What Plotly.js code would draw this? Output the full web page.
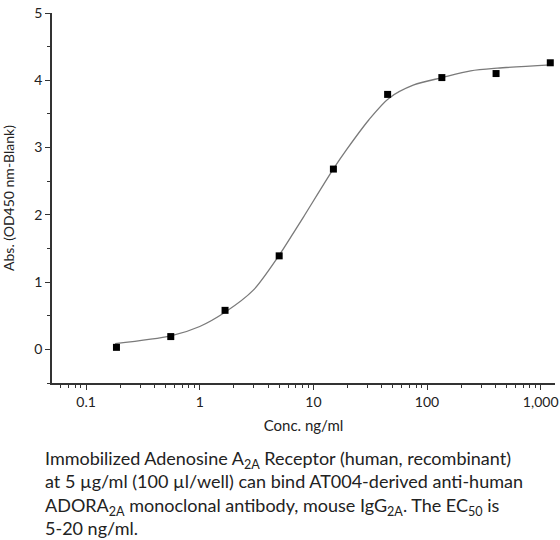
<!DOCTYPE html>
<html>
<head>
<meta charset="utf-8">
<script src="https://cdn.plot.ly/plotly-3.0.1.min.js"></script>
<style>
  body { margin: 0; background: #fff; }
  #chart { width: 560px; height: 540px; }
</style>
</head>
<body>
<div id="chart"></div>
<script>
// measured points (conc. ng/ml vs absorbance)
const conc = [0.185, 0.556, 1.67, 5, 15, 45, 135, 405, 1215];
const absorb = [0.03, 0.19, 0.58, 1.39, 2.68, 3.79, 4.04, 4.10, 4.26];

// fitted curve
const fitConc = [0.18, 0.556, 1, 1.68, 2.96, 5, 6.9, 8.2, 15.1, 19.8, 30.7, 46, 76.5, 136, 242, 416, 1225];
const fitAbs = [0.085, 0.20, 0.34, 0.555, 0.88, 1.40, 1.77, 1.97, 2.69, 2.98, 3.41, 3.73, 3.93, 4.04, 4.14, 4.18, 4.23];

const xTickVals = [0.1, 1, 10, 100, 1000];
const xTickText = ["0.1", "1", "10", "100", "1,000"];
const yTickVals = [0, 1, 2, 3, 4, 5];

const caption = "Immobilized Adenosine A<sub>2A</sub> Receptor (human, recombinant)<br>" +
                "at 5 µg/ml (100 µl/well) can bind AT004-derived anti-human<br>" +
                "ADORA<sub>2A</sub> monoclonal antibody, mouse IgG<sub>2A</sub>. The EC<sub>50</sub> is<br>" +
                "5-20 ng/ml.";

const traceFit = {
    x: fitConc,
    y: fitAbs,
    mode: "lines",
    type: "scatter",
    line: { color: "#7a7a7a", width: 1.3, shape: "spline", smoothing: 0.8 },
    hoverinfo: "skip"
};

const tracePoints = {
    x: conc,
    y: absorb,
    mode: "markers",
    type: "scatter",
    marker: { symbol: "square", color: "#000", size: 7 }
};

const layout = {
    width: 560,
    height: 540,
    showlegend: false,
    font: { family: "Lato, 'Open Sans', sans-serif", color: "#222", size: 14 },
    margin: { l: 52, r: 5, t: 13, b: 157 },
    paper_bgcolor: "#fff",
    plot_bgcolor: "#fff",
    xaxis: {
        type: "log",
        range: [-1.30, 3.126],
        tickvals: xTickVals,
        ticktext: xTickText,
        ticks: "outside",
        ticklen: 5,
        tickwidth: 1.3,
        tickcolor: "#333",
        showgrid: false,
        zeroline: false,
        showline: true,
        linecolor: "#333",
        linewidth: 1.5,
        minor: { dtick: "D1", ticks: "outside", ticklen: 3, tickwidth: 1.2, tickcolor: "#333", showgrid: false },
        title: { text: "Conc. ng/ml", standoff: 12, font: { size: 15 } },
        tickfont: { size: 14 }
    },
    yaxis: {
        range: [-0.5, 5],
        tickvals: yTickVals,
        ticks: "outside",
        ticklen: 5,
        tickwidth: 1.3,
        tickcolor: "#333",
        showgrid: false,
        zeroline: false,
        showline: true,
        linecolor: "#333",
        linewidth: 1.5,
        minor: { dtick: 0.5, ticks: "outside", ticklen: 3, tickwidth: 1.2, tickcolor: "#333", showgrid: false },
        title: { text: "Abs. (OD450 nm-Blank)", standoff: 16, font: { size: 14 } },
        tickfont: { size: 14 }
    },
    annotations: [{
        xref: "paper", yref: "paper",
        x: -0.018, y: -0.167,
        xanchor: "left", yanchor: "top",
        align: "left",
        showarrow: false,
        text: caption,
        font: { size: 18, color: "#222" }
    }]
};

Plotly.newPlot("chart", [traceFit, tracePoints], layout, { displayModeBar: false });
</script>
</body>
</html>
